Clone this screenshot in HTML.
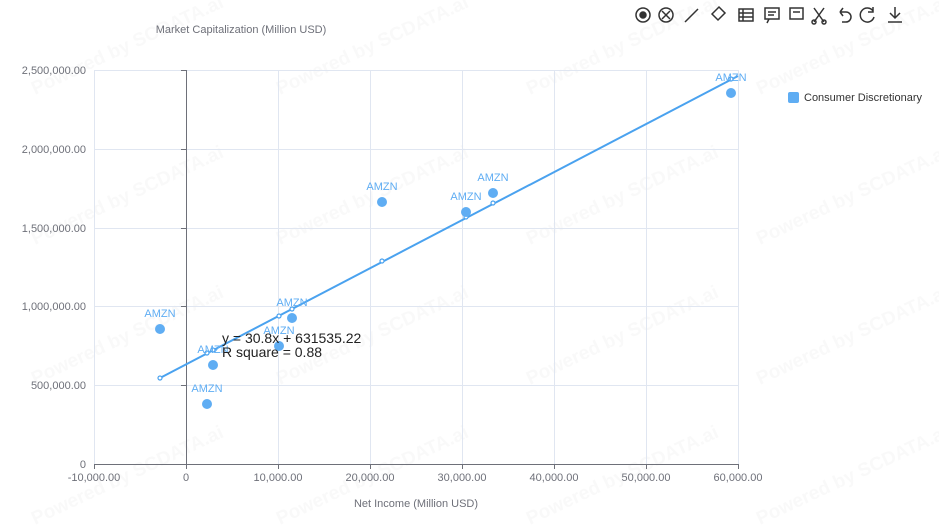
<!DOCTYPE html>
<html><head><meta charset="utf-8"><style>
body{margin:0;background:#fff;width:939px;height:525px;overflow:hidden;font-family:"Liberation Sans",sans-serif}
</style></head><body>
<svg width="939" height="525" xmlns="http://www.w3.org/2000/svg" font-family="Liberation Sans, sans-serif">
<g fill="#000" opacity="0.025" font-size="19" font-weight="bold">
<text transform="translate(35,95) rotate(-25)">Powered by SCDATA.ai</text>
<text transform="translate(280,95) rotate(-25)">Powered by SCDATA.ai</text>
<text transform="translate(530,95) rotate(-25)">Powered by SCDATA.ai</text>
<text transform="translate(760,95) rotate(-25)">Powered by SCDATA.ai</text>
<text transform="translate(35,245) rotate(-25)">Powered by SCDATA.ai</text>
<text transform="translate(280,245) rotate(-25)">Powered by SCDATA.ai</text>
<text transform="translate(530,245) rotate(-25)">Powered by SCDATA.ai</text>
<text transform="translate(760,245) rotate(-25)">Powered by SCDATA.ai</text>
<text transform="translate(35,385) rotate(-25)">Powered by SCDATA.ai</text>
<text transform="translate(280,385) rotate(-25)">Powered by SCDATA.ai</text>
<text transform="translate(530,385) rotate(-25)">Powered by SCDATA.ai</text>
<text transform="translate(760,385) rotate(-25)">Powered by SCDATA.ai</text>
<text transform="translate(35,525) rotate(-25)">Powered by SCDATA.ai</text>
<text transform="translate(280,525) rotate(-25)">Powered by SCDATA.ai</text>
<text transform="translate(530,525) rotate(-25)">Powered by SCDATA.ai</text>
<text transform="translate(760,525) rotate(-25)">Powered by SCDATA.ai</text>
</g>
<g stroke="#e0e6f1" stroke-width="1">
<line x1="94" y1="70.5" x2="738" y2="70.5"/><line x1="94" y1="149.5" x2="738" y2="149.5"/><line x1="94" y1="228.5" x2="738" y2="228.5"/><line x1="94" y1="306.5" x2="738" y2="306.5"/><line x1="94" y1="385.5" x2="738" y2="385.5"/>
<line x1="94.5" y1="70" x2="94.5" y2="464"/><line x1="278.5" y1="70" x2="278.5" y2="464"/><line x1="370.5" y1="70" x2="370.5" y2="464"/><line x1="462.5" y1="70" x2="462.5" y2="464"/><line x1="554.5" y1="70" x2="554.5" y2="464"/><line x1="646.5" y1="70" x2="646.5" y2="464"/><line x1="738.5" y1="70" x2="738.5" y2="464"/>
</g>
<line x1="186.5" y1="70" x2="186.5" y2="464" stroke="#6e7079"/>
<line x1="94" y1="464.5" x2="738" y2="464.5" stroke="#6e7079"/>
<g stroke="#6e7079"><line x1="181" y1="70.5" x2="186" y2="70.5"/><line x1="181" y1="149.5" x2="186" y2="149.5"/><line x1="181" y1="228.5" x2="186" y2="228.5"/><line x1="181" y1="306.5" x2="186" y2="306.5"/><line x1="181" y1="385.5" x2="186" y2="385.5"/>
<line x1="94.5" y1="464" x2="94.5" y2="469"/><line x1="186.5" y1="464" x2="186.5" y2="469"/><line x1="278.5" y1="464" x2="278.5" y2="469"/><line x1="370.5" y1="464" x2="370.5" y2="469"/><line x1="462.5" y1="464" x2="462.5" y2="469"/><line x1="554.5" y1="464" x2="554.5" y2="469"/><line x1="646.5" y1="464" x2="646.5" y2="469"/><line x1="738.5" y1="464" x2="738.5" y2="469"/></g>
<g font-size="11" fill="#6e7079" text-anchor="end">
<text x="86" y="74">2,500,000.00</text><text x="86" y="153">2,000,000.00</text><text x="86" y="232">1,500,000.00</text><text x="86" y="310">1,000,000.00</text><text x="86" y="389">500,000.00</text><text x="86" y="468">0</text>
</g>
<g font-size="11" fill="#6e7079" text-anchor="middle">
<text x="94" y="481">-10,000.00</text><text x="186" y="481">0</text><text x="278" y="481">10,000.00</text><text x="370" y="481">20,000.00</text><text x="462" y="481">30,000.00</text><text x="554" y="481">40,000.00</text><text x="646" y="481">50,000.00</text><text x="738" y="481">60,000.00</text>
<text x="416" y="507">Net Income (Million USD)</text>
<text x="241" y="33">Market Capitalization (Million USD)</text>
</g>
<polyline points="160,378 738,76" stroke="#4aa2ef" stroke-width="2" fill="none"/>
<g fill="#fff" stroke="#4aa2ef" stroke-width="1.2">
<circle cx="160" cy="378" r="2"/><circle cx="207" cy="353" r="2"/><circle cx="213" cy="350" r="2"/><circle cx="279" cy="316" r="2"/><circle cx="292" cy="309" r="2"/><circle cx="382" cy="261" r="2"/><circle cx="466" cy="217" r="2"/><circle cx="493" cy="203" r="2"/><circle cx="731" cy="79" r="2"/>
</g>
<g fill="#5fadf3">
<circle cx="160" cy="329" r="5"/><circle cx="207" cy="404" r="5"/><circle cx="213" cy="365" r="5"/><circle cx="279" cy="346" r="5"/><circle cx="292" cy="318" r="5"/><circle cx="382" cy="202" r="5"/><circle cx="466" cy="212" r="5"/><circle cx="493" cy="193" r="5"/><circle cx="731" cy="93" r="5"/>
</g>
<g font-size="11" fill="#5fadf3" text-anchor="middle">
<text x="160" y="317">AMZN</text><text x="207" y="392">AMZN</text><text x="213" y="353">AMZN</text><text x="279" y="334">AMZN</text><text x="292" y="306">AMZN</text><text x="382" y="190">AMZN</text><text x="466" y="200">AMZN</text><text x="493" y="181">AMZN</text><text x="731" y="81">AMZN</text>
</g>
<text x="222" y="343" font-size="14" fill="#222">y = 30.8x + 631535.22</text>
<text x="222" y="357" font-size="14" fill="#222">R square = 0.88</text>
<rect x="788" y="92" width="11" height="11" rx="2" fill="#5fadf3"/>
<text x="804" y="101" font-size="11" fill="#333">Consumer Discretionary</text>
<g stroke="#333" stroke-width="1.5" fill="none">
<circle cx="643" cy="15" r="7"/><circle cx="643" cy="15" r="3" fill="#333"/>
<circle cx="666" cy="15" r="7"/><path d="M662 11l8 8M670 11l-8 8"/>
<path d="M685 22l13-13"/>
<path d="M712 14l7-7 6 6-7 7z"/>
<rect x="739" y="9" width="14" height="12"/><path d="M739 13h14M739 17h14M743 9v12"/>
<rect x="765" y="8" width="14" height="11"/><path d="M768 12h8M768 15h6M769 19l-2 4"/>
<rect x="790" y="8" width="13" height="11"/><path d="M793 12h7"/>
<path d="M814 8l10 14M824 8l-10 14"/><circle cx="814" cy="22" r="2"/><circle cx="824" cy="22" r="2"/>
<path d="M840 12h6a5 5 0 010 10h-4M840 12l3-4M840 12l3 4"/>
<path d="M873 11a7 7 0 10 1 6M873 7v5h-5"/>
<path d="M895 7v11M890 13l5 5 5-5M888 22h14"/>
</g>
</svg>
</body></html>
